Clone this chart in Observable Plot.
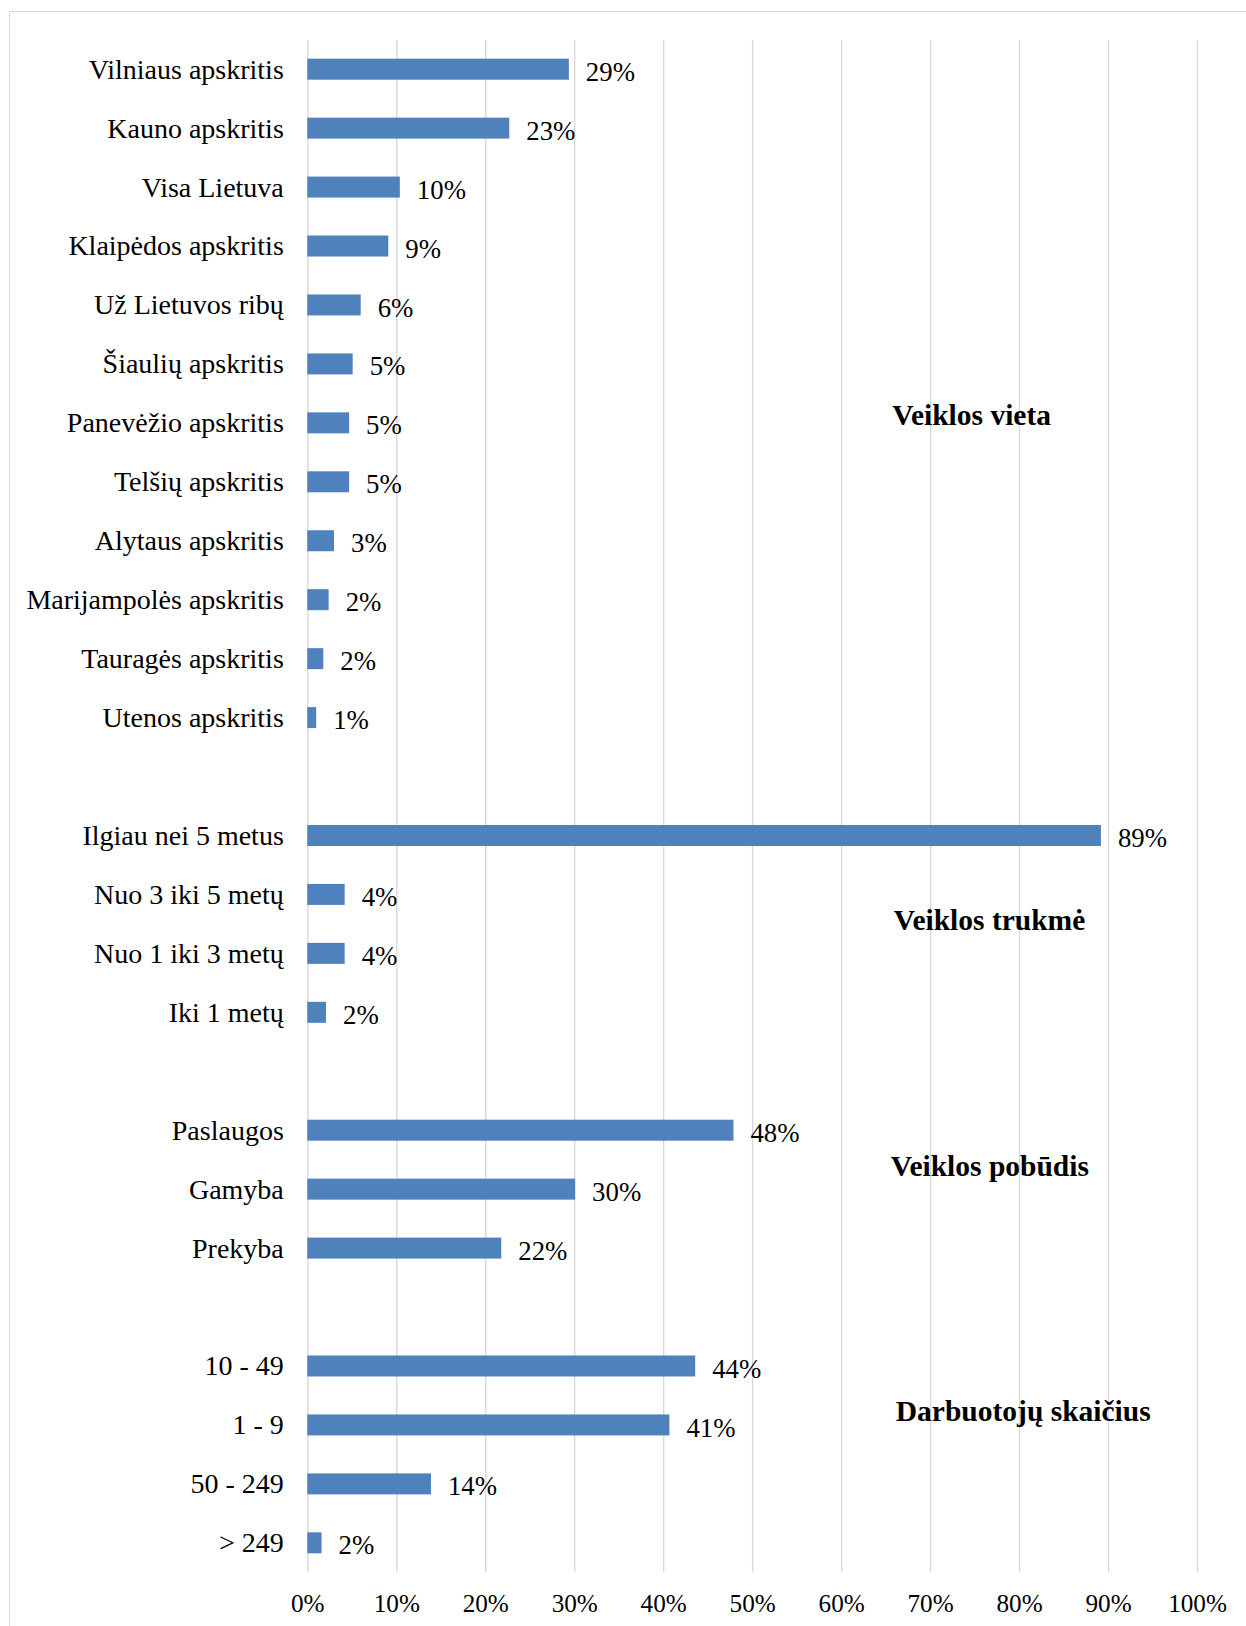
<!DOCTYPE html>
<html>
<head>
<meta charset="utf-8">
<script src="https://cdn.jsdelivr.net/npm/d3@7"></script>
<script src="https://cdn.jsdelivr.net/npm/@observablehq/plot@0.6"></script>
<style>
  html, body { margin: 0; padding: 0; background: #fff; overflow: hidden; }
  #wrap { position: relative; width: 1246px; height: 1626px; }
  #border { position: absolute; left: 9px; top: 11px; right: -10px; bottom: -10px;
            border-left: 1.5px solid #d9d9d9; border-top: 1.5px solid #d9d9d9; pointer-events: none; }
  svg text { font-family: 'Liberation Serif', 'Times New Roman', serif; }
</style>
</head>
<body>
<div id="wrap"><div id="border"></div></div>
<script>
// --- data ---
const vietaLabels = ["Vilniaus apskritis", "Kauno apskritis", "Visa Lietuva", "Klaipėdos apskritis",
  "Už Lietuvos ribų", "Šiaulių apskritis", "Panevėžio apskritis", "Telšių apskritis",
  "Alytaus apskritis", "Marijampolės apskritis", "Tauragės apskritis", "Utenos apskritis"];
const vietaValues = [29.4, 22.7, 10.4, 9.1, 6.0, 5.1, 4.7, 4.7, 3.0, 2.4, 1.8, 1.0];

const trukmeLabels = ["Ilgiau nei 5 metus", "Nuo 3 iki 5 metų", "Nuo 1 iki 3 metų", "Iki 1 metų"];
const trukmeValues = [89.2, 4.2, 4.2, 2.1];

const pobudisLabels = ["Paslaugos", "Gamyba", "Prekyba"];
const pobudisValues = [47.9, 30.1, 21.8];

const darbLabels = ["10 - 49", "1 - 9", "50 - 249", "> 249"];
const darbValues = [43.6, 40.7, 13.9, 1.6];

const groupTitles = ["Veiklos vieta", "Veiklos trukmė", "Veiklos pobūdis", "Darbuotojų skaičius"];
const groupAnchorRows = ["Šiaulių apskritis", "Nuo 3 iki 5 metų", "Paslaugos", "10 - 49"];

const xTicks = [0, 10, 20, 30, 40, 50, 60, 70, 80, 90, 100];

// --- build table ---
const groups = [
  [vietaLabels, vietaValues],
  [trukmeLabels, trukmeValues],
  [pobudisLabels, pobudisValues],
  [darbLabels, darbValues]
];
const rows = [];
const data = [];
groups.forEach(([labels, values], gi) => {
  if (gi > 0) rows.push("gap" + gi);
  labels.forEach((l, i) => { rows.push(l); data.push({label: l, value: values[i]}); });
});

const serif = "'Liberation Serif', 'Times New Roman', serif";
// per-title placement (pixels relative to anchor row)
const titleDx = [584.5, 586, 583, 588];
const titleDy = [50.8, 25.6, 35.5, 44.7];

const chart = Plot.plot({
  width: 1246,
  height: 1626,
  marginLeft: 307.3,
  marginRight: 49,
  marginTop: 40,
  marginBottom: 54,
  style: {fontFamily: serif, color: "#000", background: "transparent"},
  x: {domain: [0, 100], label: null},
  y: {domain: rows, range: [40, 1572], paddingInner: 0.644, paddingOuter: 0.317, align: 0.5, round: false, label: null},
  marks: [
    Plot.ruleX(xTicks, {x: d => d, stroke: "#d9d9d9", strokeWidth: 1.4}),
    Plot.barX(data, {x: "value", y: "label", fill: "#4F81BD"}),
    Plot.text(data, {x: "value", y: "label", text: d => Math.round(d.value) + "%",
      textAnchor: "start", dx: 16.5, dy: 2.5, fontSize: 26.8, fontFamily: serif, fill: "#000"}),
    Plot.axisY({tickSize: 0, tickPadding: 24, fontSize: 28, fontFamily: serif, label: null,
      tickFormat: d => d.startsWith("gap") ? "" : d}),
    Plot.axisX({ticks: xTicks, tickSize: 0, tickPadding: 22, fontSize: 25.2, fontFamily: serif, label: null,
      tickFormat: d => d + "%"}),
    ...groupTitles.map((t, i) => Plot.text([t], {
      y: () => groupAnchorRows[i], frameAnchor: "left", text: d => d,
      textAnchor: "start", dx: titleDx[i], dy: titleDy[i],
      fontSize: 29.5, fontWeight: "bold", fontFamily: serif, fill: "#000"}))
  ]
});
document.getElementById("wrap").prepend(chart);
</script>
</body>
</html>
